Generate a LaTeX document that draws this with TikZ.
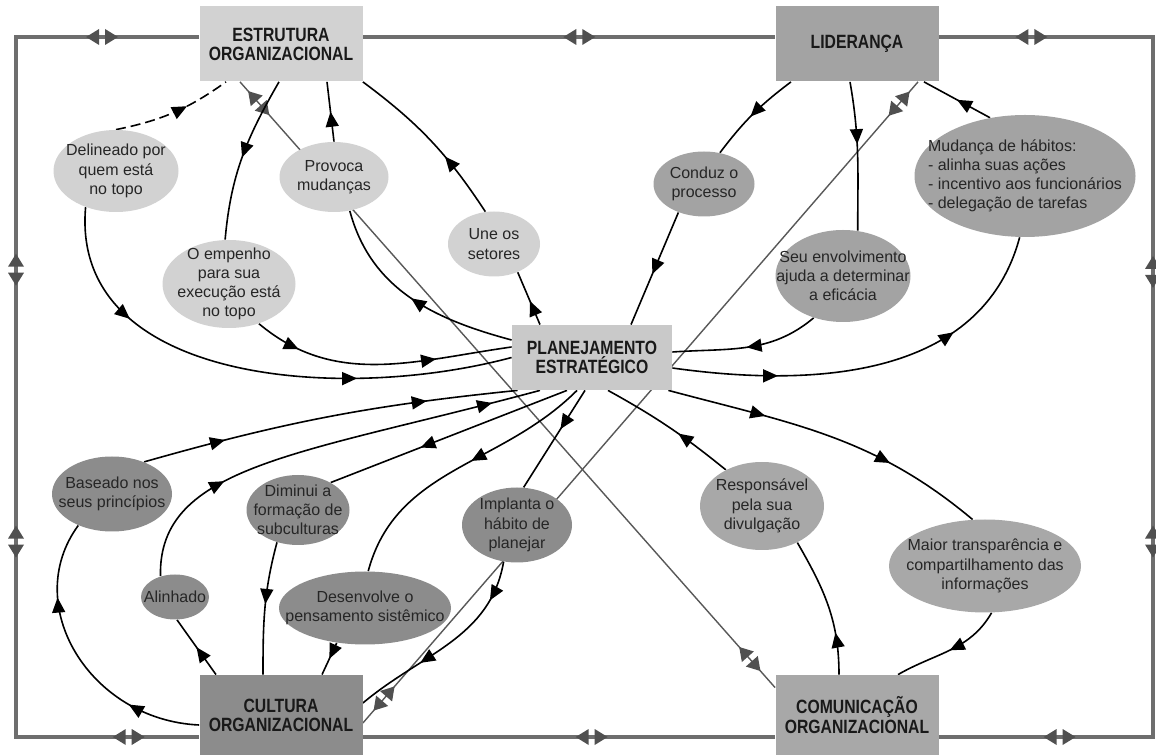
\documentclass[tikz,border=0pt]{standalone}
\usepackage{fontspec}
\setmainfont{Liberation Sans}
\newfontfamily\boxfont[FakeStretch=0.82]{Liberation Sans}
\usetikzlibrary{shapes.geometric,arrows.meta,decorations.markings,backgrounds}
\definecolor{lightfill}{HTML}{D2D2D2}
\definecolor{planfill}{HTML}{C9C9C9}
\definecolor{midfill}{HTML}{A3A3A3}
\definecolor{darkfill}{HTML}{8C8C8C}
\definecolor{comfill}{HTML}{A8A8A8}
\definecolor{rimgray}{HTML}{6E6E6E}
\definecolor{pairgray}{HTML}{505050}
\definecolor{linegray}{HTML}{585858}

\begin{document}
\begin{tikzpicture}[x=0.5pt,y=0.5pt,
  box/.style={rectangle,inner sep=0pt,minimum width=81.5pt,minimum height=37.5pt,align=center,text=black!90,font=\boxfont\bfseries\fontsize{9.6}{9.6}\selectfont},
  bub/.style={ellipse,inner sep=-40pt,align=center,text=black!85,font=\fontsize{8}{9.6}\selectfont},
  link/.style={draw=black,line width=0.8pt},
  gline/.style={draw=linegray,line width=0.7pt},
  rim/.style={draw=rimgray,line width=1.6pt},
  arr/.style={postaction={decorate,decoration={markings,mark=at position #1 with {\arrow{Triangle[length=7.5pt,width=6.5pt]}}}}},
  twoway/.style={postaction={decorate,decoration={markings,mark=at position #1 with {\fill[pairgray] (-8pt,0pt) -- (-1.5pt,4pt) -- (-1.5pt,-4pt) -- cycle (8pt,0pt) -- (1.5pt,4pt) -- (1.5pt,-4pt) -- cycle;}}}}]
\useasboundingbox (0,0) rectangle (1156,755);

\coordinate (ctl) at (16,718);
\coordinate (ctr) at (1153,718);
\coordinate (cbl) at (16,18);
\coordinate (cbr) at (1153,18);

\node[box,fill=lightfill] (estrutura) at (281,711) {ESTRUTURA\\ORGANIZACIONAL};
\node[box,fill=midfill] (lideranca) at (857,711) {LIDERANÇA};
\node[box,fill=darkfill,minimum height=40pt] (cultura) at (281,40) {CULTURA\\ORGANIZACIONAL};
\node[box,fill=comfill,minimum height=40pt] (comunicacao) at (857,40) {COMUNICAÇÃO\\ORGANIZACIONAL};
\node[box,fill=planfill,minimum width=80pt,minimum height=32.5pt] (planejamento) at (592,397.5) {PLANEJAMENTO\\ESTRATÉGICO};

\node[bub,fill=lightfill,minimum width=62.5pt,minimum height=41pt] (delineado) at (116,584) {Delineado por\\quem está\\no topo};
\node[bub,fill=lightfill,minimum width=54.5pt,minimum height=35pt] (provoca) at (334,578) {Provoca\\mudanças};
\node[bub,fill=lightfill,minimum width=66.5pt,minimum height=44pt] (empenho) at (229,471) {O empenho\\para sua\\execução está\\no topo};
\node[bub,fill=lightfill,minimum width=46pt,minimum height=32.5pt] (setores) at (494,511) {Une os\\setores};
\node[bub,fill=midfill,minimum width=50.5pt,minimum height=32.5pt] (conduz) at (704,571) {Conduz o\\processo};
\node[bub,fill=midfill,minimum width=67.5pt,minimum height=46pt] (envolvimento) at (843,479) {Seu envolvimento\\ajuda a determinar\\a eficácia};
\node[bub,fill=midfill,minimum width=110.5pt,minimum height=61pt,align=left] (habitos) at (1025,579) {Mudança de hábitos:\\- alinha suas ações\\- incentivo aos funcionários\\- delegação de tarefas};
\node[bub,fill=darkfill,minimum width=60pt,minimum height=37.5pt] (baseado) at (112,261) {Baseado nos\\seus princípios};
\node[bub,fill=darkfill,minimum width=51.5pt,minimum height=35pt] (diminui) at (298,245) {Diminui a\\formação de\\subculturas};
\node[bub,fill=darkfill,minimum width=34pt,minimum height=22.5pt] (alinhado) at (175,158) {Alinhado};
\node[bub,fill=darkfill,minimum width=86pt,minimum height=36.5pt] (desenvolve) at (365,147) {Desenvolve o\\pensamento sistêmico};
\node[bub,fill=darkfill,minimum width=55pt,minimum height=37.5pt] (implanta) at (517,230) {Implanta o\\hábito de\\planejar};
\node[bub,fill=comfill,minimum width=62pt,minimum height=44pt] (responsavel) at (762,249) {Responsável\\pela sua\\divulgação};
\node[bub,fill=comfill,minimum width=96pt,minimum height=46.5pt] (transparencia) at (985,189) {Maior transparência e\\compartilhamento das\\informações};

\begin{pgfonlayer}{background}
\draw[rim,twoway=0.525] (estrutura.east |- ctl) -- (lideranca.west |- ctl);
\draw[rim,twoway=0.082,twoway=0.398,twoway=0.637,twoway=0.893] (lideranca.east |- ctr) -- (ctr) -- (cbr) -- (comunicacao.east |- cbr);
\draw[rim,twoway=0.445] (comunicacao.west |- cbl) -- (cultura.east |- cbl);
\draw[rim,twoway=0.091,twoway=0.39,twoway=0.645,twoway=0.934] (estrutura.west |- ctl) -- (ctl) -- (cbl) -- (cultura.west |- cbl);

\draw[gline,twoway=0.035,twoway=0.953] ([xshift=-20.5pt]estrutura.south) -- ([yshift=-6.5pt]comunicacao.north west);
\draw[gline,twoway=0.034,twoway=0.962] ([xshift=30.5pt]lideranca.south) -- ([yshift=-4pt]cultura.east);

\draw[link,dash pattern=on 5pt off 2.5pt,arr=0.62] (delineado.north) to[bend right=12] ([xshift=-27.5pt]estrutura.south);
\draw[link,arr=0.24,arr=0.7] (delineado.230) to[out=-95,in=195] (planejamento.west);
\draw[link,arr=0.5] ([xshift=-1pt]estrutura.south) to[out=-120,in=85] (empenho.95);
\draw[link,arr=0.18,arr=0.71] (empenho.-53) to[out=-40,in=188] ([yshift=5.25pt]planejamento.west);
\draw[link,arr=0.5] (provoca.north) -- ([xshift=23pt]estrutura.south);
\draw[link,arr=0.5] ([yshift=8.75pt]planejamento.west) to[out=165,in=-75] (provoca.-65);
\draw[link,arr=0.38] (setores.105) to[bend right=10] (estrutura.south east);
\draw[link,arr=0.45] ([xshift=-26pt]planejamento.north) -- (setores.-50);

\draw[link,arr=0.53] ([xshift=-33pt]lideranca.south) to[bend right=8] (conduz.63);
\draw[link,arr=0.55] (conduz.228) -- ([xshift=19.5pt]planejamento.north);
\draw[link,arr=0.42] ([xshift=-3.5pt]lideranca.south) to[out=-80,in=90] (envolvimento.72);
\draw[link,arr=0.5] (envolvimento.235) to[out=220,in=4] ([yshift=2.75pt]planejamento.east);
\draw[link,arr=0.5] (habitos.121) -- ([xshift=33.5pt]lideranca.south);
\draw[link,arr=0.26,arr=0.71] ([yshift=-5.25pt]planejamento.east) to[out=-8,in=-105] (habitos.265);

\draw[link,arr=0.22,arr=0.76] (baseado.45) to[bend left=5] ([xshift=3pt]planejamento.south west);
\draw[link,arr=0.27,arr=0.89] (alinhado.125) .. controls (158,290) and (300,300) .. ([xshift=-26pt]planejamento.south);
\draw[link,arr=0.62] ([xshift=-12.5pt]planejamento.south) -- (diminui.40);
\draw[link,arr=0.47] (diminui.237) to[out=-105,in=90] ([xshift=-9pt]cultura.north);
\draw[link,arr=0.5] ([xshift=-32.5pt]cultura.north) -- (alinhado.-85);
\draw[link,arr=0.26,arr=0.73] ([yshift=-5pt]cultura.west) .. controls (90,35) and (20,150) .. (baseado.223);
\draw[link,arr=0.45] ([xshift=-7.5pt]planejamento.south) to[out=-135,in=75] (desenvolve.85);
\draw[link,arr=0.5] (desenvolve.231) -- ([xshift=20.5pt]cultura.north);
\draw[link,arr=0.4] ([xshift=-3.5pt]planejamento.south) -- (implanta.80);
\draw[link,arr=0.2,arr=0.66] (implanta.250) to[out=-100,in=40] ([yshift=6pt]cultura.east);

\draw[link,arr=0.42] (responsavel.135) to[bend right=5] ([xshift=8pt]planejamento.south);
\draw[link,arr=0.3] ([xshift=-9pt]comunicacao.north) to[out=90,in=-60] (responsavel.-46);
\draw[link,arr=0.3,arr=0.7] ([xshift=-2pt]planejamento.south east) to[out=-15,in=140] (transparencia.105);
\draw[link,arr=0.5] (transparencia.-82) to[out=-120,in=30] ([xshift=20.5pt]comunicacao.north);
\end{pgfonlayer}
\end{tikzpicture}
\end{document}
